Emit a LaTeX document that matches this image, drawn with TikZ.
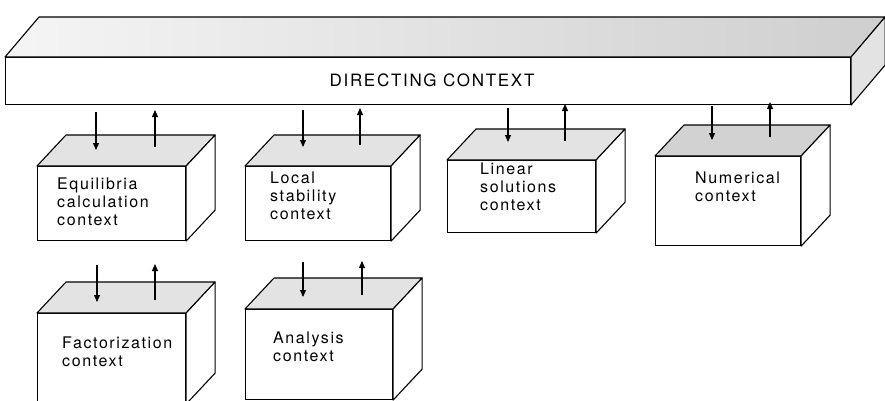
\documentclass[tikz,border=0pt]{standalone}
\usepackage{fontspec}
\setmainfont{TeX Gyre Heros}[LetterSpace=10]
\usetikzlibrary{calc,arrows.meta}
\tikzset{
  front/.style={draw, line width=1.1pt, fill=white, rectangle, inner sep=0pt, anchor=north west},
  topface/.style={draw, line width=1.1pt, fill=gray!22, line join=round},
  sideface/.style={draw, line width=1.1pt, fill=white, line join=round},
  lbl/.style={anchor=north west, align=left, inner sep=0pt, font=\fontsize{16}{18}\selectfont},
  dn/.style={line width=1.1pt, -{Triangle[width=6pt,length=7pt]}},
  up/.style={line width=1.1pt, -{Triangle[width=6pt,length=7pt]}},
}
\newcommand\ctxbox[6]{%
  \node[front, minimum width=#4pt, minimum height=#5pt] (#1) at (#2,#3) {};
  \draw[topface,#6] (#1.north west) -- ($(#1.north west)+(29,-31)$) -- ($(#1.north east)+(29,-31)$) -- (#1.north east) -- cycle;
  \draw[sideface] (#1.north east) -- ($(#1.north east)+(29,-31)$) -- ($(#1.south east)+(29,-31)$) -- (#1.south east) -- cycle;
}
\begin{document}
\begin{tikzpicture}[x=1pt,y=-1pt]
\useasboundingbox (0,0) rectangle (885,400);
% directing context bar
\node[front, minimum width=845pt, minimum height=47pt] (dc) at (5,57) {};
\draw[topface, fill=none, left color=gray!8, right color=gray!38] (dc.north west) -- ($(dc.north west)+(34,-40)$) -- ($(dc.north east)+(34,-40)$) -- (dc.north east) -- cycle;
\draw[sideface, fill=gray!22] (dc.north east) -- ($(dc.north east)+(34,-40)$) -- ($(dc.south east)+(34,-40)$) -- (dc.south east) -- cycle;
\node[font=\fontsize{17}{20}\selectfont, inner sep=0pt] (dct) at (432,80) {DIRECTING CONTEXT};

% boxes
\ctxbox{eq}{37}{166}{148}{74}{}
\ctxbox{ls}{245}{166}{145}{74}{}
\ctxbox{lin}{447}{160}{148}{72}{}
\ctxbox{num}{655}{156}{145}{89}{fill=gray!35}
\ctxbox{fac}{37}{313}{148}{90}{}
\ctxbox{an}{245}{309}{147}{90}{}

\node[lbl] (eqt) at (57,178) {Equilibria\\calculation\\context};
\node[lbl] (lst) at (270,172) {Local\\stability\\context};
\node[lbl] (lint) at (480,163) {Linear\\solutions\\context};
\node[lbl] (numt) at (695,172) {Numerical\\context};
\node[lbl] (fact) at (62,337) {Factorization\\context};
\node[lbl] (ant) at (273,332) {Analysis\\context};

% arrow end points
\coordinate (eqa1) at (96,112);  \coordinate (eqb1) at (96,150);
\coordinate (eqa2) at (155,147); \coordinate (eqb2) at (155,110);
\coordinate (lsa1) at (303,110); \coordinate (lsb1) at (303,147);
\coordinate (lsa2) at (360,145); \coordinate (lsb2) at (360,108);
\coordinate (lina1) at (508,108); \coordinate (linb1) at (508,142);
\coordinate (lina2) at (565,141); \coordinate (linb2) at (565,104);
\coordinate (numa1) at (712,106); \coordinate (numb1) at (712,140);
\coordinate (numa2) at (770,137); \coordinate (numb2) at (770,102);
\coordinate (faca1) at (97,265); \coordinate (facb1) at (97,302);
\coordinate (faca2) at (155,300); \coordinate (facb2) at (155,264);
\coordinate (ana1) at (303,262); \coordinate (anb1) at (303,297);
\coordinate (ana2) at (362,295); \coordinate (anb2) at (362,261);

\draw[dn] (eqa1) -- (eqb1);  \draw[up] (eqa2) -- (eqb2);
\draw[dn] (lsa1) -- (lsb1);  \draw[up] (lsa2) -- (lsb2);
\draw[dn] (lina1) -- (linb1); \draw[up] (lina2) -- (linb2);
\draw[dn] (numa1) -- (numb1); \draw[up] (numa2) -- (numb2);
\draw[dn] (faca1) -- (facb1); \draw[up] (faca2) -- (facb2);
\draw[dn] (ana1) -- (anb1);  \draw[up] (ana2) -- (anb2);
\end{tikzpicture}
\end{document}
